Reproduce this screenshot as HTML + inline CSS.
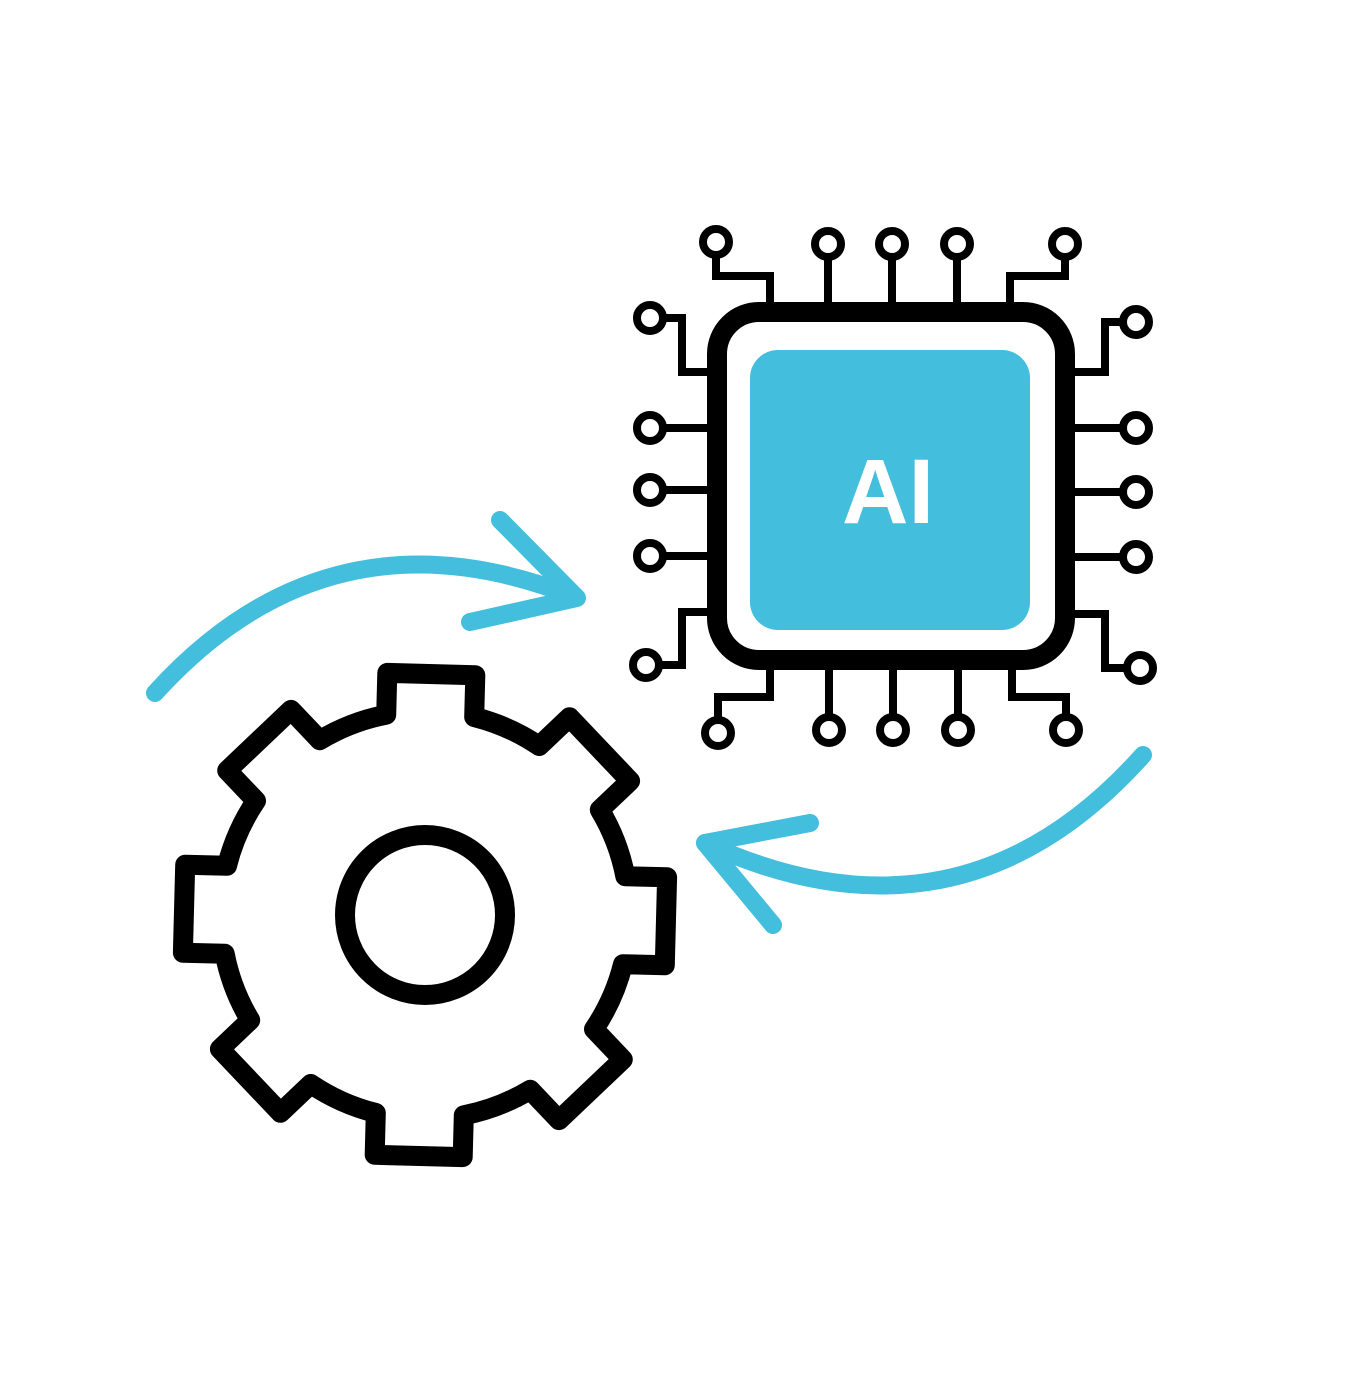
<!DOCTYPE html>
<html><head><style>html,body{margin:0;padding:0;background:#fff}svg{display:block}</style></head>
<body>
<svg width="1348" height="1387" viewBox="0 0 1348 1387" xmlns="http://www.w3.org/2000/svg">
<g fill="none" stroke="#000" stroke-width="8" stroke-linejoin="miter">
<polyline points="716,242 716,276 770,276 770,305"/>
<line x1="828" y1="244" x2="828" y2="305"/>
<line x1="892" y1="244" x2="892" y2="305"/>
<line x1="957" y1="244" x2="957" y2="305"/>
<polyline points="1065,244 1065,276 1010,276 1010,305"/>
<polyline points="770,668 770,697 718,697 718,733"/>
<line x1="829" y1="668" x2="829" y2="730"/>
<line x1="893" y1="668" x2="893" y2="730"/>
<line x1="958" y1="668" x2="958" y2="730"/>
<polyline points="1012,668 1012,697 1066,697 1066,730"/>
<polyline points="650,318 682,318 682,372 710,372"/>
<line x1="650" y1="428" x2="710" y2="428"/>
<line x1="650" y1="490" x2="710" y2="490"/>
<line x1="650" y1="556" x2="710" y2="556"/>
<polyline points="710,612 682,612 682,665 646,665"/>
<polyline points="1073,372 1105,372 1105,322 1136,322"/>
<line x1="1073" y1="428" x2="1136" y2="428"/>
<line x1="1073" y1="492" x2="1136" y2="492"/>
<line x1="1073" y1="557" x2="1136" y2="557"/>
<polyline points="1073,614 1105,614 1105,668 1140,668"/>
</g>
<g fill="#fff" stroke="#000" stroke-width="8">
<circle cx="716" cy="242" r="13"/><circle cx="828" cy="244" r="13"/><circle cx="892" cy="244" r="13"/><circle cx="957" cy="244" r="13"/><circle cx="1065" cy="244" r="13"/>
<circle cx="718" cy="733" r="13"/><circle cx="829" cy="730" r="13"/><circle cx="893" cy="730" r="13"/><circle cx="958" cy="730" r="13"/><circle cx="1066" cy="730" r="13"/>
<circle cx="650" cy="318" r="13"/><circle cx="650" cy="428" r="13"/><circle cx="650" cy="490" r="13"/><circle cx="650" cy="556" r="13"/><circle cx="646" cy="665" r="13"/>
<circle cx="1136" cy="322" r="13"/><circle cx="1136" cy="428" r="13"/><circle cx="1136" cy="492" r="13"/><circle cx="1136" cy="557" r="13"/><circle cx="1140" cy="668" r="13"/>
</g>
<rect x="717" y="312" width="348" height="348" rx="42" fill="#fff" stroke="#000" stroke-width="20"/>
<rect x="750" y="350" width="280" height="280" rx="28" fill="#43bedc"/>
<text x="888" y="523" text-anchor="middle" font-family="Liberation Sans, sans-serif" font-weight="bold" font-size="92" fill="#fff">AI</text>
<path id="gear" fill="#fff" stroke="#000" stroke-width="20" stroke-linejoin="round"/>
<circle cx="425" cy="915" r="80" fill="#fff" stroke="#000" stroke-width="20"/>
<g fill="none" stroke="#43bedc" stroke-width="18" stroke-linecap="round" stroke-linejoin="round">
<path d="M155,693 Q330,500 575,597"/>
<polyline points="500,520 577,598 470,622"/>
<path d="M1143,755 Q960,960 705,843"/>
<polyline points="810,823 705,843 773,925"/>
</g>
</svg>
<script>
(function(){
var cx=425,cy=915,R=204,T=245,hw=44,rot=1.5*Math.PI/180,d="";
function P(r,a){return [cx+r*Math.sin(a),cy-r*Math.cos(a)];}
for(var i=0;i<8;i++){
 var a=rot+i*Math.PI/4;
 var ab=Math.asin(hw/R), at=Math.asin(hw/T);
 var p1=P(R,a-ab),p2=P(T,a-at),p3=P(T,a+at),p4=P(R,a+ab);
 d+=(i==0?"M":"L")+p1[0].toFixed(1)+","+p1[1].toFixed(1)+"L"+p2[0].toFixed(1)+","+p2[1].toFixed(1)+"L"+p3[0].toFixed(1)+","+p3[1].toFixed(1)+"L"+p4[0].toFixed(1)+","+p4[1].toFixed(1);
 var n=P(R,a+Math.PI/4-ab);
 d+="A"+R+","+R+" 0 0 1 "+n[0].toFixed(1)+","+n[1].toFixed(1);
}
document.getElementById("gear").setAttribute("d",d+"Z");
})();
</script>
</body></html>
